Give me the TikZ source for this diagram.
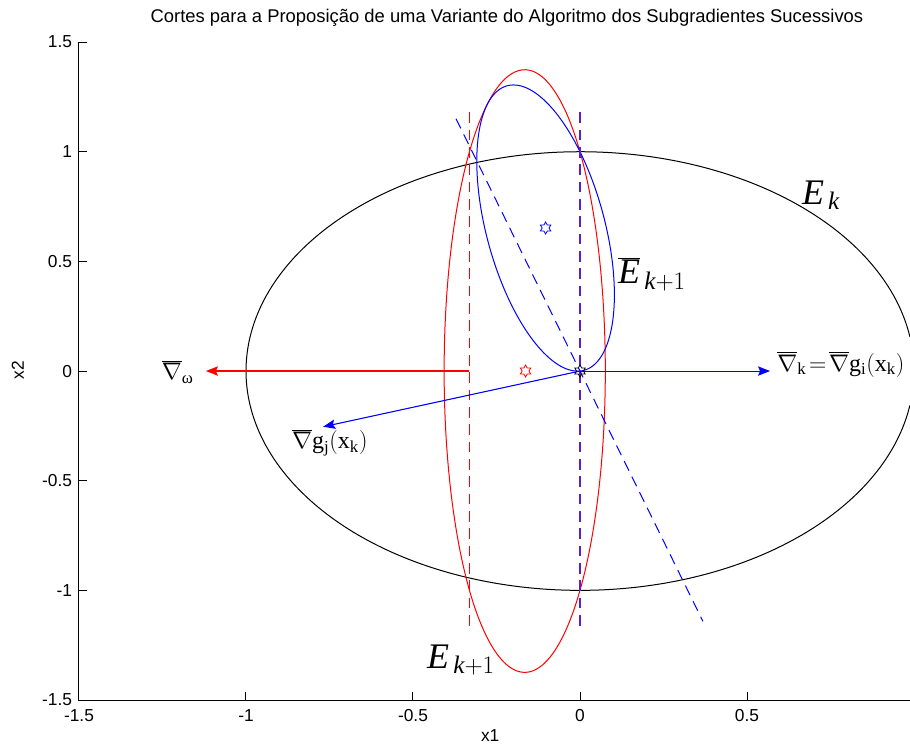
\documentclass[tikz,border=0pt]{standalone}
\usepackage{fix-cm}
\usepackage{fontspec}
\setmainfont{Liberation Serif}
\newfontfamily\axfont{Liberation Sans}
\usetikzlibrary{shapes.geometric, arrows.meta}
\definecolor{cutred}{RGB}{255, 0, 0}
\definecolor{cutblue}{RGB}{0, 0, 255}
\definecolor{cutboth}{RGB}{90, 30, 210}

\begin{document}
\begin{tikzpicture}[x=8.804cm, y=5.781cm,
    curve/.style={draw=#1, line width=0.75pt},
    cut/.style={draw=#1, line width=1pt, dash pattern=on 8pt off 5pt},
    vec/.style={draw=#1, fill=#1, line width=1pt, -{Stealth[length=9pt, width=7pt, inset=1.5pt]}},
    hexa/.style={star, star points=6, star point ratio=1.75, draw=#1, line width=0.6pt,
                 minimum size=9pt, inner sep=0pt},
    lbl/.style={font=\fontsize{18}{22}\selectfont, inner sep=0pt},
    big/.style={font=\fontsize{27}{32}\selectfont, inner sep=0pt},
    tick/.style={font=\axfont\fontsize{13}{15}\selectfont, inner sep=0pt}
]
    \useasboundingbox (-1.7365,-1.7054) rectangle (0.988,1.6918);

    \coordinate (xk) at (0,0);
    \coordinate (cutR) at (-0.331,0);
    \coordinate (redtop) at (-0.331,1.18);
    \coordinate (redbot) at (-0.331,-1.17);
    \coordinate (bothtop) at (0,1.18);
    \coordinate (bothbot) at (0,-1.17);
    \coordinate (diagtop) at (-0.371,1.150);
    \coordinate (diagbot) at (0.368,-1.141);
    \coordinate (gw) at (-1.12,0);
    \coordinate (gi) at (0.569,0);
    \coordinate (gj) at (-0.769,-0.254);

    % ellipses
    \draw[curve=black] plot[domain=9:351, samples=150, smooth, variable=\t]
        ({cos(\t)}, {sin(\t)});
    \draw[curve=cutred] plot[domain=0:360, samples=150, smooth, variable=\t]
        ({-0.1655+0.2413*cos(\t)}, {1.374*sin(\t)});
    \draw[curve=cutblue] plot[domain=0:360, samples=150, smooth, variable=\t]
        ({-0.103+0.206*cos(\t)}, {0.652-0.304*cos(\t)+0.5773*sin(\t)});

    % cuts
    \draw[cut=cutred, line width=1.3pt] (redtop) -- (redbot);
    \draw[cut=cutboth] (bothtop) -- (bothbot);
    \draw[cut=cutblue, line width=0.75pt] (diagtop) -- (diagbot);

    % subgradients
    \draw[vec=cutred] (cutR) -- (gw);
    \draw[vec=cutblue, line width=0.8pt] (xk) -- (gi);
    \draw[vec=cutblue, line width=0.8pt] (xk) -- (gj);

    % centres
    \node[hexa=cutblue] (cblue) at (-0.103,0.652) {};
    \node[hexa=cutred] (cred) at (-0.163,0) {};
    \node[hexa=black] (cxk) at (xk) {};

    % labels
    \node[big] (nEk) at (0.7216,0.803) {$\mathit{E}_{\,\mathit{k}}$};
    \node[big] (nEbar) at (0.2156,0.442) {$\overline{\mathit{E}}_{\,\mathit{k}+1}$};
    \node[big] (nEnext) at (-0.356,-1.318) {$\mathit{E}_{\,\mathit{k}+1}$};
    \node[lbl] (nw) at (-1.204,-0.005) {$\overline{\nabla}_{\mathrm{ω}}$};
    \node[lbl, anchor=west] (ngi) at (0.59,0.03)
        {$\overline{\nabla}_{\mathrm{k}}\!=\!\overline{\nabla}\mathrm{g}_{\mathrm{i}}(\mathrm{x}_{\mathrm{k}})$};
    \node[lbl] (ngj) at (-0.749,-0.328) {$\overline{\nabla}\mathrm{g}_{\mathrm{j}}(\mathrm{x}_{\mathrm{k}})$};

    % axes
    \draw[line width=0.75pt] (-1.5,1.5) -- (-1.5,-1.5) -- (0.988,-1.5);
    \foreach \v [count=\i] in {-1.5,-1,-0.5,0,0.5} {
        \draw[line width=0.75pt] (\v,-1.5) -- ++(0,6pt);
        \node[tick, anchor=north, yshift=-7pt] (xtick\i) at (\v,-1.5) {\v};
    }
    \foreach \v [count=\i] in {-1.5,-1,-0.5,0,0.5,1,1.5} {
        \draw[line width=0.75pt] (-1.5,\v) -- ++(6pt,0);
        \node[tick, anchor=east, xshift=-5pt] (ytick\i) at (-1.5,\v) {\v};
    }
    \node[tick] (xlab) at (-0.269,-1.66) {x1};
    \node[tick, rotate=90] (ylab) at (-1.683,0.005) {x2};
    \node[tick, font=\axfont\fontsize{13.8}{16}\selectfont] (title) at (-0.2186,1.61)
        {Cortes para a Proposição de uma Variante do Algoritmo dos Subgradientes Sucessivos};
\end{tikzpicture}
\end{document}
